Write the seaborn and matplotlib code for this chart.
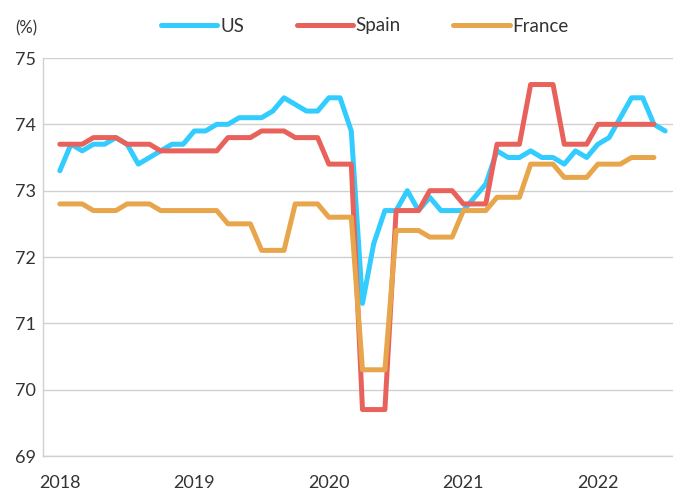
import matplotlib
matplotlib.use("Agg")
import matplotlib.pyplot as plt
import numpy as np
import pandas as pd
import seaborn as sns

# monthly values, Jan 2018 onwards
us = [73.3, 73.7, 73.6, 73.7, 73.7, 73.8, 73.7, 73.4, 73.5, 73.6, 73.7, 73.7,
      73.9, 73.9, 74.0, 74.0, 74.1, 74.1, 74.1, 74.2, 74.4, 74.3, 74.2, 74.2,
      74.4, 74.4, 73.9, 71.3, 72.2, 72.7, 72.7, 73.0, 72.7, 72.9, 72.7, 72.7,
      72.7, 72.9, 73.1, 73.6, 73.5, 73.5, 73.6, 73.5, 73.5, 73.4, 73.6, 73.5,
      73.7, 73.8, 74.1, 74.4, 74.4, 74.0, 73.9]
spain = [73.7, 73.7, 73.7, 73.8, 73.8, 73.8, 73.7, 73.7, 73.7, 73.6, 73.6, 73.6,
         73.6, 73.6, 73.6, 73.8, 73.8, 73.8, 73.9, 73.9, 73.9, 73.8, 73.8, 73.8,
         73.4, 73.4, 73.4, 69.7, 69.7, 69.7, 72.7, 72.7, 72.7, 73.0, 73.0, 73.0,
         72.8, 72.8, 72.8, 73.7, 73.7, 73.7, 74.6, 74.6, 74.6, 73.7, 73.7, 73.7,
         74.0, 74.0, 74.0, 74.0, 74.0, 74.0]
france = [72.8, 72.8, 72.8, 72.7, 72.7, 72.7, 72.8, 72.8, 72.8, 72.7, 72.7, 72.7,
          72.7, 72.7, 72.7, 72.5, 72.5, 72.5, 72.1, 72.1, 72.1, 72.8, 72.8, 72.8,
          72.6, 72.6, 72.6, 70.3, 70.3, 70.3, 72.4, 72.4, 72.4, 72.3, 72.3, 72.3,
          72.7, 72.7, 72.7, 72.9, 72.9, 72.9, 73.4, 73.4, 73.4, 73.2, 73.2, 73.2,
          73.4, 73.4, 73.4, 73.5, 73.5, 73.5]
years = ["2018", "2019", "2020", "2021", "2022"]

series = {"US": us, "Spain": spain, "France": france}
colors = {"US": "#33CCFF", "Spain": "#E8625B", "France": "#E8A64C"}

frames = []
for name, vals in series.items():
    frames.append(pd.DataFrame({"month": np.arange(len(vals)), "value": vals, "country": name}))
df = pd.concat(frames, ignore_index=True)

sns.set_style("white")
plt.rcParams["font.family"] = ["Lato", "DejaVu Sans"]

fig = plt.figure(figsize=(6.73, 4.90), dpi=100)
ax = fig.add_axes([43 / 673, 1 - 456 / 490, 630 / 673, 398 / 490])

sns.lineplot(data=df, x="month", y="value", hue="country", palette=colors,
             linewidth=3.6, ax=ax, legend=False)
for line in ax.get_lines():
    line.set_solid_capstyle("round")
    line.set_solid_joinstyle("round")

ax.set_ylim(69, 75)
ax.set_yticks(range(69, 76))
ax.set_xlim(-1.5, 54.7)
ax.set_xticks([0, 12, 24, 36, 48])
ax.set_xticklabels(years)
ax.set_xlabel("")
ax.set_ylabel("")
ax.grid(axis="y", color="#D0D0D0", linewidth=1)
ax.set_axisbelow(True)
for s in ["top", "right"]:
    ax.spines[s].set_visible(False)
for s in ["left", "bottom"]:
    ax.spines[s].set_color("#D0D0D0")
    ax.spines[s].set_linewidth(1)
ax.tick_params(axis="both", length=0, labelsize=13, labelcolor="#333333")
ax.tick_params(axis="y", pad=5)
ax.tick_params(axis="x", pad=13.5)

handles = [plt.Line2D([], [], color=colors[n], linewidth=3.6, solid_capstyle="round") for n in series]
fig.legend(handles, list(series), loc="center", bbox_to_anchor=(365 / 673, 1 - 26 / 490),
           ncol=3, frameon=False, fontsize=13.5, handlelength=3.0, handletextpad=0.15,
           columnspacing=2.8, labelcolor="#333333")

fig.text(15 / 673, 1 - 28 / 490, "(%)", fontsize=12, color="#333333", va="center", ha="left")

fig.savefig("out.png", dpi=100)
